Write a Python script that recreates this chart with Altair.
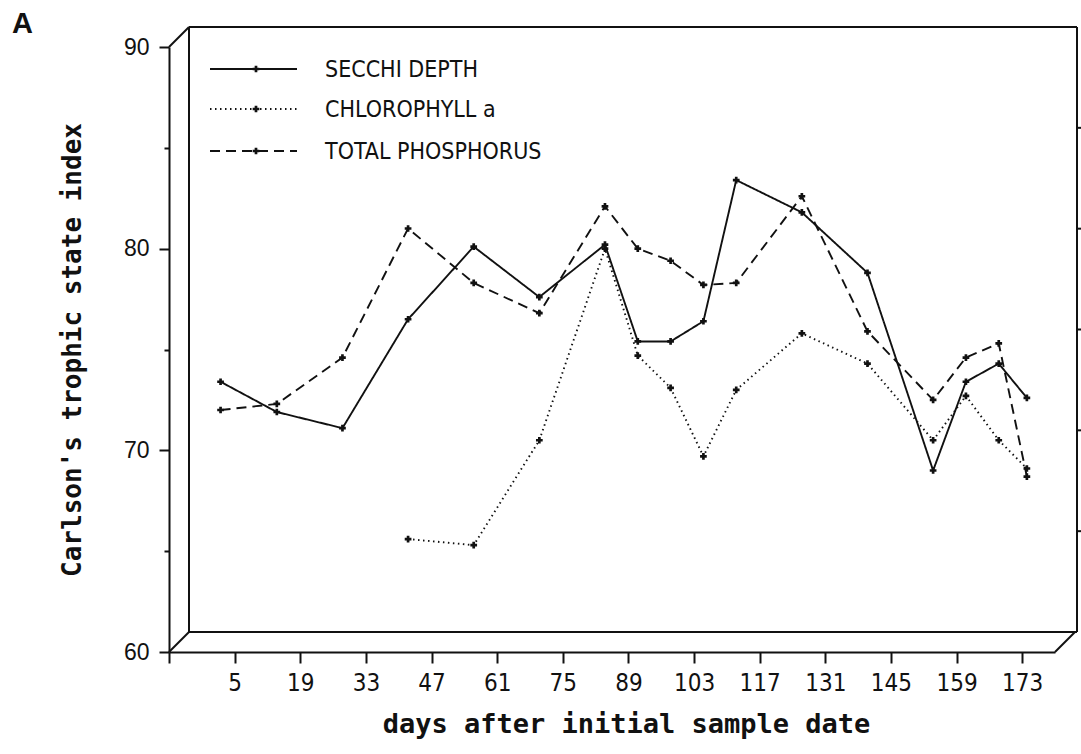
import altair as alt
import pandas as pd

# ---- data ----
days = [2, 14, 28, 42, 56, 70, 84, 91, 98, 105, 112, 126, 140, 154, 161, 168, 174]
secchi = [73.4, 71.9, 71.1, 76.5, 80.1, 77.6, 80.2, 75.4, 75.4, 76.4, 83.4, 81.8, 78.8, 69.0, 73.4, 74.3, 72.6]
chlorophyll = [None, None, None, 65.6, 65.3, 70.5, 80.0, 74.7, 73.1, 69.7, 73.0, 75.8, 74.3, 70.5, 72.7, 70.5, 69.1]
phosphorus = [72.0, 72.3, 74.6, 81.0, 78.3, 76.8, 82.1, 80.0, 79.4, 78.2, 78.3, 82.6, 75.9, 72.5, 74.6, 75.3, 68.7]
series_names = ["SECCHI DEPTH", "CHLOROPHYLL a", "TOTAL PHOSPHORUS"]
x_ticks = list(range(-9, 181, 7))
y_ticks = [60, 65, 70, 75, 80, 85, 90]
back_ticks = [65, 70, 75, 80, 85]

rows = []
for name, vals in zip(series_names, [secchi, chlorophyll, phosphorus]):
    for d, v in zip(days, vals):
        if v is not None:
            rows.append({"day": d, "value": v, "series": name})
df = pd.DataFrame(rows)

W, H = 886, 605
INK = "#111111"
dashes = [[1, 0], [1.5, 3.5], [10, 6]]

xscale = alt.Scale(domain=[-9, 180], nice=False, zero=False)
yscale = alt.Scale(domain=[60, 90], nice=False, zero=False)
dash_scale = alt.Scale(domain=series_names, range=dashes)

x_axis = alt.Axis(
    values=x_ticks,
    labelExpr="((datum.value - 5) % 14 == 0 && datum.value >= 5) ? datum.label : ''",
    format="d",
    tickSize={"condition": {"test": "(datum.value - 5) % 14 == 0", "value": 11}, "value": 5},
    tickWidth=2, tickColor=INK, domainColor=INK, domainWidth=2,
    labelFont="Liberation Sans Narrow, DejaVu Sans Condensed, sans-serif",
    labelFontSize=24, labelColor=INK, labelPadding=8, labelFlush=False,
    labelOverlap=False, grid=False,
    title="days after initial sample date",
    titleFont="DejaVu Sans Mono", titleFontSize=27, titleFontWeight="bold",
    titleColor=INK, titleX=457, titleY=80, titleBaseline="alphabetic", titleAlign="center",
)
y_axis = alt.Axis(
    values=y_ticks,
    labelExpr="datum.value % 10 == 0 ? datum.label : ''",
    tickSize={"condition": {"test": "datum.value % 10 == 0", "value": 10}, "value": 5},
    tickWidth=2, tickColor=INK, domainColor=INK, domainWidth=2,
    labelFont="Liberation Sans", labelFontSize=23, labelColor=INK, labelPadding=10,
    labelFlush=False, labelOverlap=False, grid=False,
    title="Carlson's trophic state index",
    titleFont="DejaVu Sans Mono", titleFontSize=26, titleFontWeight="bold",
    titleColor=INK, titleAngle=270, titleX=-89, titleY=H / 2,
    titleBaseline="alphabetic", titleAlign="center",
)

lines = alt.Chart(df).mark_line(color=INK, strokeWidth=1.9).encode(
    x=alt.X("day:Q", scale=xscale, axis=x_axis),
    y=alt.Y("value:Q", scale=yscale, axis=y_axis),
    strokeDash=alt.StrokeDash("series:N", scale=dash_scale, legend=None),
    detail="series:N",
)
points = alt.Chart(df).mark_point(shape="cross", filled=True, size=45, color=INK, opacity=1).encode(
    x=alt.X("day:Q", scale=xscale),
    y=alt.Y("value:Q", scale=yscale),
)

one = pd.DataFrame({"k": [0]})
layers = [lines, points]

# 3-D box frame (pixel layout relative to plot area)
DX, DY = 20, -20
segments = [
    (DX, DY, 908, DY),
    (DX, DY, DX, H + DY),
    (908, DY, 908, H + DY),
    (DX, H + DY, 908, H + DY),
    (0, 0, DX, DY),
    (0, H, DX, H + DY),
    (W, H, W + DX, H + DY),
]
for x0, y0, x1, y1 in segments:
    layers.append(
        alt.Chart(one).mark_rule(color=INK, strokeWidth=2).encode(
            x=alt.value(x0), y=alt.value(y0), x2=alt.value(x1), y2=alt.value(y1)
        )
    )

# small ticks on back right edge
layers.append(
    alt.Chart(pd.DataFrame({"v": back_ticks})).mark_rule(color=INK, strokeWidth=2, yOffset=DY).encode(
        y=alt.Y("v:Q", scale=yscale), x=alt.value(908), x2=alt.value(914)
    )
)

# legend drawn inside the panel
row_y = [22, 62, 104]
for i, name in enumerate(series_names):
    layers.append(
        alt.Chart(one).mark_rule(color=INK, strokeWidth=1.9, strokeDash=dashes[i]).encode(
            x=alt.value(41), x2=alt.value(128), y=alt.value(row_y[i])
        )
    )
    layers.append(
        alt.Chart(one).mark_point(shape="cross", filled=True, size=45, color=INK, opacity=1).encode(
            x=alt.value(87), y=alt.value(row_y[i])
        )
    )
    layers.append(
        alt.Chart(one).mark_text(
            text=name, align="left", baseline="middle", color=INK,
            font="Liberation Sans Narrow, DejaVu Sans Condensed, sans-serif", fontSize=23,
        ).encode(x=alt.value(156), y=alt.value(row_y[i] + 1))
    )

# panel letter
layers.append(
    alt.Chart(one).mark_text(
        text="A", align="center", baseline="alphabetic", color=INK,
        font="Liberation Sans", fontSize=29, fontWeight="bold",
    ).encode(x=alt.value(22.5 - 169), y=alt.value(33 - 47))
)

chart = alt.layer(*layers).properties(
    width=W, height=H,
    autosize=alt.AutoSizeParams(type="none"),
    padding={"left": 169, "top": 47, "right": 26, "bottom": 102},
    background="white",
).configure_view(stroke=None)

chart.save("out.html", embed_options={"renderer": "svg", "actions": False})
